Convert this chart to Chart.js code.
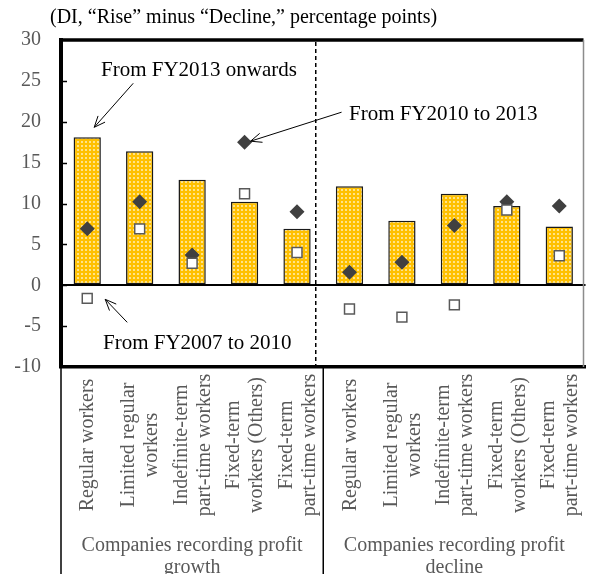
<!DOCTYPE html>
<html>
<head>
<meta charset="utf-8">
<script src="https://cdn.jsdelivr.net/npm/chart.js@4"></script>
<style>
  html, body { margin: 0; padding: 0; background: #fff; }
</style>
</head>
<body>
<canvas id="myChart" width="594" height="574"></canvas>
<script>
/* global Chart*/

// worker types, repeated for both company groups
const categories = [
  ['Regular workers'],
  ['Limited regular', 'workers'],
  ['Indefinite-term', 'part-time workers'],
  ['Fixed-term', 'workers (Others)'],
  ['Fixed-term', 'part-time workers'],
  ['Regular workers'],
  ['Limited regular', 'workers'],
  ['Indefinite-term', 'part-time workers'],
  ['Fixed-term', 'workers (Others)'],
  ['Fixed-term', 'part-time workers'],
];
const groups = [
  ['Companies recording profit', 'growth'],
  ['Companies recording profit', 'decline'],
];

// DI, "rise" minus "decline"
const fy2013Onwards = [18.1, 16.4, 12.9, 10.2, 6.9, 12.1, 7.9, 11.2, 9.7, 7.2];
const fy2010To2013 = [6.9, 10.2, 3.7, 17.5, 9.0, 1.6, 2.8, 7.3, 10.2, 9.7];
const fy2007To2010 = [-1.6, 6.9, 2.7, 11.2, 4.0, -2.9, -3.9, -2.4, 9.2, 3.6];

const yTicks = [-10, -5, 0, 5, 10, 15, 20, 25, 30];

const SERIF = '"Liberation Serif", "Times New Roman", serif';

const canvas = document.getElementById('myChart');
const ctx = canvas.getContext('2d');

// orange fill with light dots
function dotPattern() {
  const tile = document.createElement('canvas');
  tile.width = 4;
  tile.height = 4;
  const g = tile.getContext('2d');
  g.fillStyle = '#FFC000';
  g.fillRect(0, 0, 4, 4);
  g.fillStyle = '#FFE38A';
  g.fillRect(1, 1, 2, 2);
  return ctx.createPattern(tile, 'repeat');
}

function line(c, x1, y1, x2, y2) {
  c.beginPath();
  c.moveTo(x1, y1);
  c.lineTo(x2, y2);
  c.stroke();
}

function arrow(c, x1, y1, x2, y2) {
  const ang = Math.atan2(y2 - y1, x2 - x1);
  const len = 12;
  line(c, x1, y1, x2, y2);
  c.beginPath();
  c.moveTo(x2 - len * Math.cos(ang - 0.4), y2 - len * Math.sin(ang - 0.4));
  c.lineTo(x2, y2);
  c.lineTo(x2 - len * Math.cos(ang + 0.4), y2 - len * Math.sin(ang + 0.4));
  c.stroke();
}

// frame, dividers, category table, notes and unit label
const decorations = {
  id: 'decorations',
  afterDraw(chart) {
    const c = chart.ctx;
    const a = chart.chartArea;
    const x = chart.scales.x;
    const y = chart.scales.y;
    c.save();

    // top and right edges of the plot
    c.strokeStyle = '#000';
    c.lineWidth = 3.5;
    line(c, a.left, a.top, a.right - 2, a.top);
    c.strokeStyle = '#8c8c8c';
    c.lineWidth = 1.5;
    line(c, a.right - 2, a.top, a.right - 2, a.bottom);

    // inner tick marks
    c.strokeStyle = '#000';
    c.lineWidth = 1.5;
    yTicks.slice(1, -1).forEach(v => {
      const py = Math.round(y.getPixelForValue(v)) + 0.5;
      line(c, a.left, py, a.left + 6, py);
    });

    // group boundary
    const mid = (x.getPixelForValue(4) + x.getPixelForValue(5)) / 2;
    c.setLineDash([4, 3]);
    line(c, mid - 7.5, a.top + 2, mid - 7.5, a.bottom - 2);
    c.setLineDash([]);

    // category table below the axis
    c.lineWidth = 1.5;
    line(c, a.left, a.bottom, a.left, 574);
    line(c, mid, a.bottom, mid, 574);

    c.fillStyle = '#595959';
    c.font = '20px ' + SERIF;
    c.textAlign = 'center';
    c.textBaseline = 'middle';
    categories.forEach((lines, i) => {
      const px = x.getPixelForValue(i);
      c.save();
      c.translate(px + 1, 445);
      c.rotate(-Math.PI / 2);
      lines.forEach((t, j) => {
        c.fillText(t, 0, (j - (lines.length - 1) / 2) * 23);
      });
      c.restore();
    });
    groups.forEach((lines, g) => {
      const px = (x.getPixelForValue(g * 5) + x.getPixelForValue(g * 5 + 4)) / 2;
      lines.forEach((t, j) => c.fillText(t, px, 546 + j * 22));
    });

    // unit label
    c.fillStyle = '#000';
    c.textAlign = 'left';
    c.font = '20px ' + SERIF;
    c.fillText('(DI, \u201CRise\u201D minus \u201CDecline,\u201D percentage points)', 50, 18);

    // series notes with arrows
    c.font = '21px ' + SERIF;
    c.lineWidth = 1;
    const x0 = x.getPixelForValue(0);
    const x3 = x.getPixelForValue(3);
    const barTop = y.getPixelForValue(fy2013Onwards[0]);
    const dia = y.getPixelForValue(fy2010To2013[3]);
    const sq = y.getPixelForValue(fy2007To2010[0]);

    c.fillText('From FY2013 onwards', 101, 70);
    arrow(c, x0 + 46, barTop - 54, x0 + 7, barTop - 10);

    c.fillText('From FY2010 to 2013', 349, 114);
    arrow(c, x3 + 97, dia - 30, x3 + 6, dia - 1);

    c.fillText('From FY2007 to 2010', 103, 343);
    arrow(c, x0 + 40, sq + 24, x0 + 18, sq + 1);

    c.restore();
  }
};

const chart = new Chart(ctx, {
  type: 'bar',
  data: {
    labels: categories,
    datasets: [{
      label: 'From FY2007 to 2010',
      type: 'line',
      data: fy2007To2010,
      showLine: false,
      pointStyle: 'rect',
      pointRadius: 7,
      backgroundColor: '#ffffff',
      borderColor: '#595959',
      borderWidth: 1.5,
      order: 1,
    },
    {
      label: 'From FY2010 to 2013',
      type: 'line',
      data: fy2010To2013,
      showLine: false,
      pointStyle: 'rectRot',
      pointRadius: 7.5,
      backgroundColor: '#404040',
      borderColor: '#404040',
      borderWidth: 0,
      order: 2,
    },
    {
      label: 'From FY2013 onwards',
      data: fy2013Onwards,
      backgroundColor: dotPattern(),
      borderColor: '#1a1a1a',
      borderWidth: 1.5,
      borderSkipped: false,
      barPercentage: 0.52,
      categoryPercentage: 1,
      order: 3,
    }]
  },
  options: {
    responsive: false,
    devicePixelRatio: 1,
    animation: false,
    layout: { padding: { top: 40, left: 0, right: 0, bottom: 0 } },
    plugins: {
      legend: { display: false },
      tooltip: { enabled: false },
    },
    scales: {
      x: {
        ticks: { display: false },
        grid: { display: false },
        border: { color: '#000', width: 3.5 },
        afterFit: s => { s.height = 207; },
      },
      y: {
        min: -10,
        max: 30,
        afterBuildTicks: s => { s.ticks = yTicks.map(v => ({ value: v })); },
        ticks: {
          color: '#595959',
          font: { family: SERIF, size: 20 },
          padding: 20,
        },
        grid: {
          drawTicks: false,
          color: c => (c.tick && c.tick.value === 0 ? '#000' : 'rgba(0,0,0,0)'),
          lineWidth: 2,
        },
        border: { color: '#000', width: 4 },
        afterFit: s => { s.width = 61; },
      },
    },
  },
  plugins: [decorations],
});
</script>
</body>
</html>
